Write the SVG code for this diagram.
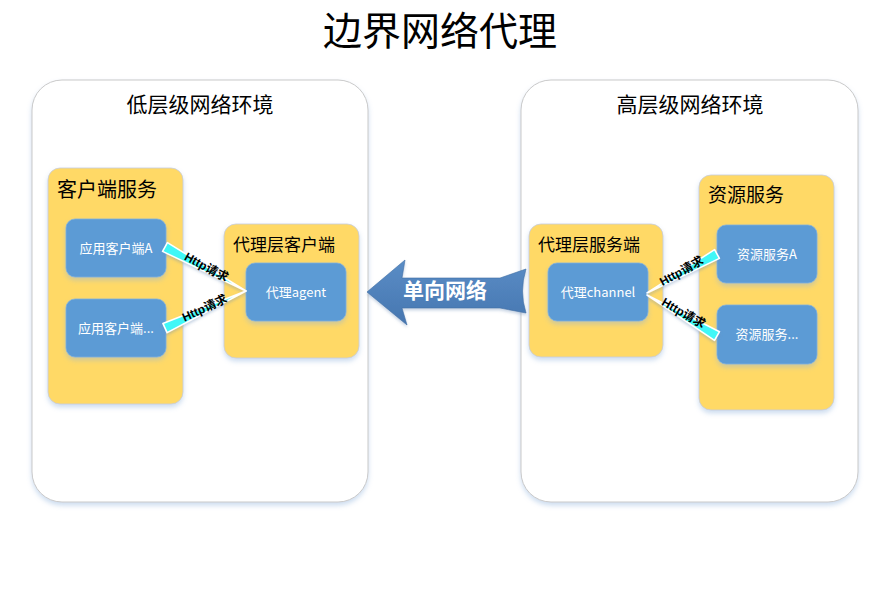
<svg xmlns="http://www.w3.org/2000/svg" width="883" height="595" viewBox="0 0 883 595">
<defs>
<style>
.t{font-family:"Noto Sans CJK SC","Liberation Sans",sans-serif;fill:#000}
.w{font-family:"Noto Sans CJK SC","Liberation Sans",sans-serif;fill:#fff;font-size:13px;text-anchor:middle}
.panel{fill:#fff;stroke:#c9c9c9;stroke-width:1}
.yel{fill:#ffd966;stroke:#c6cddd;stroke-width:0.8}
.blue{fill:#5b9bd5;stroke:#7fb0e0;stroke-width:0.8}
.wedge{fill:#3ff7f7;stroke:#fff;stroke-width:1.6;stroke-linejoin:round}
.lab{font-family:"Liberation Sans","Noto Sans CJK SC",sans-serif;font-size:12px;font-weight:bold;fill:#000;text-anchor:middle}
</style>
<filter id="sh" x="-10%" y="-10%" width="120%" height="130%">
<feDropShadow dx="0" dy="3" stdDeviation="2.5" flood-color="#8fb3de" flood-opacity="0.45"/>
</filter>
<filter id="sh2" x="-10%" y="-30%" width="120%" height="160%">
<feDropShadow dx="0" dy="2" stdDeviation="1.5" flood-color="#6f8fb8" flood-opacity="0.4"/>
</filter>
<linearGradient id="ag" x1="0" y1="0" x2="0" y2="1">
<stop offset="0" stop-color="#5a8dc6"/>
<stop offset="1" stop-color="#4676b0"/>
</linearGradient>
</defs>

<text class="t" x="440" y="45" font-size="39" text-anchor="middle">边界网络代理</text>

<g id="low-env">
<rect class="panel" x="32" y="80" width="336" height="422" rx="30" filter="url(#sh)"/>
<text class="t" x="200" y="112" font-size="21" text-anchor="middle">低层级网络环境</text>
</g>
<g id="high-env">
<rect class="panel" x="521" y="80" width="337" height="422" rx="30" filter="url(#sh)"/>
<text class="t" x="690" y="112" font-size="21" text-anchor="middle">高层级网络环境</text>
</g>

<g id="client-service">
<rect class="yel" x="48" y="168" width="135" height="236" rx="12" filter="url(#sh)"/>
<text class="t" x="57" y="197" font-size="20">客户端服务</text>
</g>
<g id="client-a">
<rect class="blue" x="66" y="219" width="100" height="58" rx="9" filter="url(#sh)"/>
<text class="w" x="116" y="252.5">应用客户端A</text>
</g>
<g id="client-etc">
<rect class="blue" x="66" y="299" width="100" height="58" rx="9" filter="url(#sh)"/>
<text class="w" x="116" y="332.5">应用客户端...</text>
</g>
<g id="proxy-client">
<rect class="yel" x="224" y="224" width="135" height="134" rx="12" filter="url(#sh)"/>
<text class="t" x="233" y="251" font-size="17">代理层客户端</text>
</g>
<g id="proxy-agent">
<rect class="blue" x="246" y="263" width="100" height="58" rx="9" filter="url(#sh)"/>
<text class="w" x="296" y="296.5">代理agent</text>
</g>
<g id="proxy-server">
<rect class="yel" x="529" y="224" width="134" height="133" rx="12" filter="url(#sh)"/>
<text class="t" x="538" y="251" font-size="17">代理层服务端</text>
</g>
<g id="proxy-channel">
<rect class="blue" x="548" y="263" width="100" height="58" rx="9" filter="url(#sh)"/>
<text class="w" x="598" y="296.5">代理channel</text>
</g>
<g id="resource-service">
<rect class="yel" x="699" y="175" width="135" height="235" rx="12" filter="url(#sh)"/>
<text class="t" x="708" y="202" font-size="19">资源服务</text>
</g>
<g id="resource-a">
<rect class="blue" x="717" y="225" width="100" height="58" rx="9" filter="url(#sh)"/>
<text class="w" x="767" y="258.5">资源服务A</text>
</g>
<g id="resource-etc">
<rect class="blue" x="717" y="305" width="100" height="59" rx="9" filter="url(#sh)"/>
<text class="w" x="767" y="339">资源服务...</text>
</g>

<g id="connectors">
<g filter="url(#sh2)">
<polygon class="wedge" points="167.4,242.6 162.6,251.4 246,291"/>
<polygon class="wedge" points="162.9,323.4 167.1,332.6 246,291"/>
<polygon class="wedge" points="647,293 714.6,249.6 719.4,258.4"/>
<polygon class="wedge" points="647,295 719.5,331.7 714.5,340.3"/>
</g>
<text class="lab" transform="translate(206,268) rotate(28.5)" y="3">Http请求</text>
<text class="lab" transform="translate(205,309) rotate(-24.5)" y="3">Http请求</text>
<text class="lab" transform="translate(682,272) rotate(-29)" y="3">Http请求</text>
<text class="lab" transform="translate(683,314) rotate(30)" y="3">Http请求</text>

<g id="one-way">
<path d="M367,292 L405,260 L402,278 L500,278 L526,269 Q519,291 526,313 L500,308 L402,308 L407,325 Z" fill="url(#ag)" stroke="#3f6ea5" stroke-width="0.6" filter="url(#sh2)"/>
<text x="445" y="298" font-family="Noto Sans CJK SC, sans-serif" font-size="21" font-weight="bold" fill="#fff" text-anchor="middle">单向网络</text>
</g>
</g>
</svg>
